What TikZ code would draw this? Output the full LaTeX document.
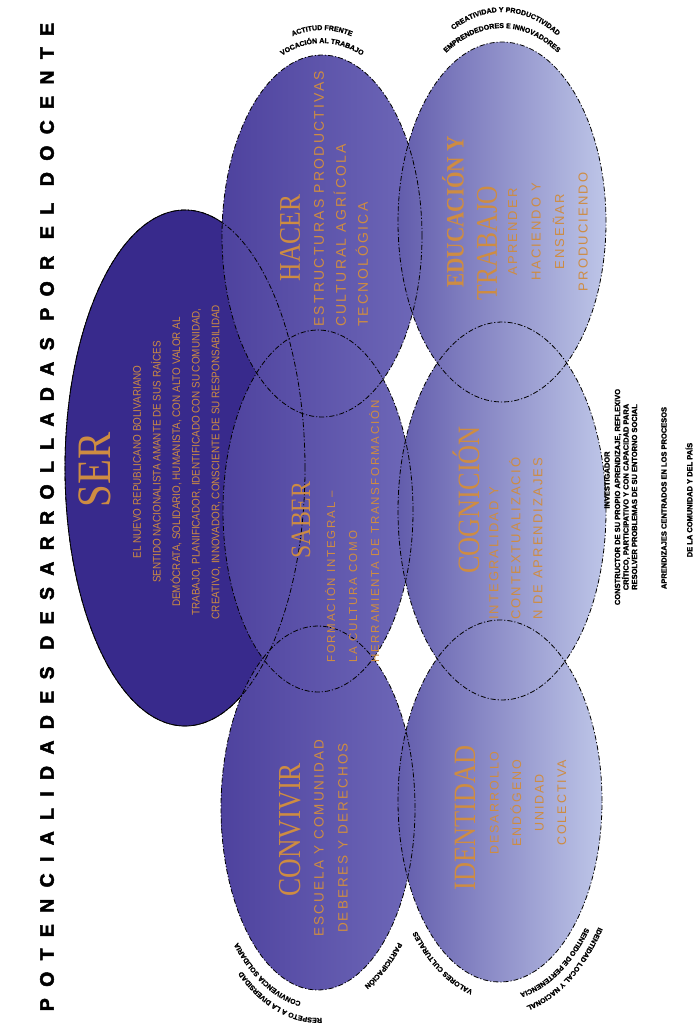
\documentclass[tikz,border=0pt]{standalone}
\usepackage{fontspec}
\setmainfont{Liberation Serif}
\setsansfont{Liberation Sans}
\newfontfamily\cabfont[LetterSpace=58,FakeBold=2.5]{Liberation Sans}
\newfontfamily\titfont[FakeStretch=0.85]{Liberation Serif}
\newfontfamily\serfont[FakeStretch=0.9]{Liberation Sans}
\newfontfamily\celfont[LetterSpace=16]{Liberation Sans}
\newfontfamily\minfont[FakeBold=1.5]{Liberation Sans}
\usetikzlibrary{shapes.geometric,decorations.text}

\definecolor{serazul}{RGB}{56,42,140}
\definecolor{azulA1}{RGB}{78,66,158}
\definecolor{azulA2}{RGB}{110,104,184}
\definecolor{azulB1}{RGB}{98,92,172}
\definecolor{azulB2}{RGB}{190,198,232}
\definecolor{ocre}{RGB}{206,140,66}

\begin{document}
\begin{tikzpicture}[x=1pt,y=1pt,
  oval/.style={ellipse,inner sep=0pt,outer sep=0pt},
  colA/.style={oval,left color=azulA1,right color=azulA2},
  colB/.style={oval,left color=azulB1,right color=azulB2},
  rim/.style={oval,draw=black,line width=0.8pt,dash pattern=on 5pt off 2pt on 1.2pt off 2pt},
  ttl/.style={rotate=90,text=ocre,inner sep=0pt},
  lbl/.style={rotate=90,text=ocre,inner sep=0pt,align=left},
  nota/.style={rotate=90,inner sep=0pt,align=center,font=\minfont\bfseries\fontsize{7.5}{8.5}\selectfont},
  arco/.style={decorate,decoration={text along path,text align=center,
    text={|\minfont\bfseries\fontsize{7}{7}\selectfont|#1}}}]
\useasboundingbox (0,0) rectangle (695,-1035);

% titulo
\node[rotate=90,inner sep=0pt,font=\cabfont\bfseries\fontsize{19.5}{19.5}\selectfont] (titulo) at (47,-517) {POTENCIALIDADES DESARROLLADAS POR EL DOCENTE};

% ovalos
\node[oval,fill=serazul,draw=black,line width=0.8pt,minimum width=240,minimum height=516] (ser) at (185,-468) {};
\node[colA,minimum width=200,minimum height=362] (hacer) at (322,-236) {};
\node[colA,minimum width=190,minimum height=362] (saber) at (318,-511) {};
\node[colA,minimum width=194,minimum height=364] (convivir) at (318,-808) {};
\node[colB,minimum width=208,minimum height=360] (educacion) at (502,-222) {};
\node[colB,minimum width=208,minimum height=378] (cognicion) at (502,-511) {};
\node[colB,minimum width=204,minimum height=362] (identidad) at (500,-801) {};

% bordes
\node[rim,minimum width=240,minimum height=516] (ser-r) at (ser) {};
\node[rim,minimum width=200,minimum height=362] (hacer-r) at (hacer) {};
\node[rim,minimum width=190,minimum height=362] (saber-r) at (saber) {};
\node[rim,minimum width=194,minimum height=364] (convivir-r) at (convivir) {};
\node[rim,minimum width=208,minimum height=360] (educacion-r) at (educacion) {};
\node[rim,minimum width=208,minimum height=378] (cognicion-r) at (cognicion) {};
\node[rim,minimum width=204,minimum height=362] (identidad-r) at (identidad) {};

% textos
\node[ttl,font=\titfont\fontsize{48}{48}\selectfont] (ser-t) at (95,-470) {SER};
\node[lbl,align=center,font=\serfont\fontsize{11}{19.6}\selectfont] (ser-b) at (177,-462)
  {EL NUEVO REPUBLICANO BOLIVARIANO\\SENTIDO NACIONALISTA AMANTE DE SUS RAÍCES\\DEMÓCRATA, SOLIDARIO, HUMANISTA, CON ALTO VALOR AL\\TRABAJO, PLANIFICADOR, IDENTIFICADO CON SU COMUNIDAD,\\CREATIVO, INNOVADOR, CONSCIENTE DE SU RESPONSABILIDAD};

\node[ttl,font=\titfont\fontsize{30}{30}\selectfont] (hacer-t) at (290,-238) {HACER};
\node[lbl,anchor=north west,font=\celfont\fontsize{14}{22}\selectfont] (hacer-b) at (314,-327)
  {ESTRUCTURAS PRODUCTIVAS\\CULTURAL AGRÍCOLA\\TECNOLÓGICA};

\node[ttl,font=\titfont\fontsize{28}{28}\selectfont] (saber-t) at (301,-520) {SABER};
\node[lbl,anchor=north west,font=\celfont\fontsize{11.5}{22}\selectfont] (saber-b) at (325,-663)
  {FORMACIÓN INTEGRAL –\\LA CULTURA COMO\\HERRAMIENTA DE TRANSFORMACIÓN};

\node[ttl,font=\titfont\fontsize{32}{32}\selectfont] (convivir-t) at (290,-830) {CONVIVIR};
\node[lbl,align=center,font=\celfont\fontsize{13.5}{24}\selectfont] (convivir-b) at (331,-838)
  {ESCUELA Y COMUNIDAD\\DEBERES Y DERECHOS};

\node[ttl,font=\titfont\bfseries\fontsize{25}{25}\selectfont] (educacion-t) at (453,-212) {EDUCACIÓN Y};
\node[ttl,font=\titfont\fontsize{30}{30}\selectfont] (trabajo-t) at (487,-243) {TRABAJO};
\node[lbl,align=center,font=\celfont\fontsize{13}{23.5}\selectfont] (educacion-b) at (548,-232)
  {APRENDER\\HACIENDO Y\\ENSEÑAR\\PRODUCIENDO};

\node[ttl,font=\titfont\fontsize{31}{31}\selectfont] (cognicion-t) at (466,-500) {COGNICIÓN};
\node[lbl,anchor=north west,font=\celfont\fontsize{13}{22}\selectfont] (cognicion-b) at (489,-620)
  {INTEGRALIDAD Y\\CONTEXTUALIZACIÓ\\N DE APRENDIZAJES};

\node[ttl,font=\titfont\fontsize{31}{31}\selectfont] (identidad-t) at (465,-818) {IDENTIDAD};
\node[lbl,align=center,font=\celfont\fontsize{12.5}{22.5}\selectfont] (identidad-b) at (528,-803)
  {DESARROLLO\\ENDÓGENO\\UNIDAD\\COLECTIVA};

% notas laterales
\node[nota] (nota1) at (607,-480) {INVESTIGADOR};
\node[nota] (nota2) at (626,-497) {CONSTRUCTOR DE SU PROPIO APRENDIZAJE, REFLEXIVO\\CRÍTICO, PARTICIPATIVO Y CON CAPACIDAD PARA\\RESOLVER PROBLEMAS DE SU ENTORNO SOCIAL};
\node[nota] (nota3) at (664,-498) {APRENDIZAJES CENTRADOS EN LOS PROCESOS};
\node[nota] (nota4) at (689,-500) {DE LA COMUNIDAD Y DEL PAÍS};

% textos curvos
\path[arco={VOCACIÓN AL TRABAJO}] ([shift={(hacer.center)}]132:112 and 193) arc[start angle=132,end angle=48,x radius=112,y radius=193];
\path[arco={ACTITUD FRENTE}] ([shift={(hacer.center)}]118:120 and 206) arc[start angle=118,end angle=62,x radius=120,y radius=206];
\path[arco={EMPRENDEDORES E INNOVADORES}] ([shift={(educacion.center)}]140:114 and 194) arc[start angle=140,end angle=40,x radius=114,y radius=194];
\path[arco={CREATIVIDAD Y PRODUCTIVIDAD}] ([shift={(educacion.center)}]132:120 and 210) arc[start angle=132,end angle=45,x radius=120,y radius=210];
\path[arco={CONVIVENCIA SOLIDARIA}] ([shift={(convivir.center)}]266:110 and 196) arc[start angle=266,end angle=220,x radius=110,y radius=196];
\path[arco={PARTICIPACIÓN}] ([shift={(convivir.center)}]330:110 and 196) arc[start angle=330,end angle=276,x radius=110,y radius=196];
\path[arco={RESPETO A LA DIVERSIDAD}] ([shift={(convivir.center)}]280:121 and 210) arc[start angle=280,end angle=225,x radius=121,y radius=210];
\path[arco={VALORES CULTURALES}] ([shift={(identidad.center)}]266:112 and 195) arc[start angle=266,end angle=215,x radius=112,y radius=195];
\path[arco={SENTIDO DE PERTENENCIA}] ([shift={(identidad.center)}]325:112 and 195) arc[start angle=325,end angle=272,x radius=112,y radius=195];
\path[arco={IDENTIDAD LOCAL Y NACIONAL}] ([shift={(identidad.center)}]330:123 and 210) arc[start angle=330,end angle=272,x radius=123,y radius=210];
\end{tikzpicture}
\end{document}
